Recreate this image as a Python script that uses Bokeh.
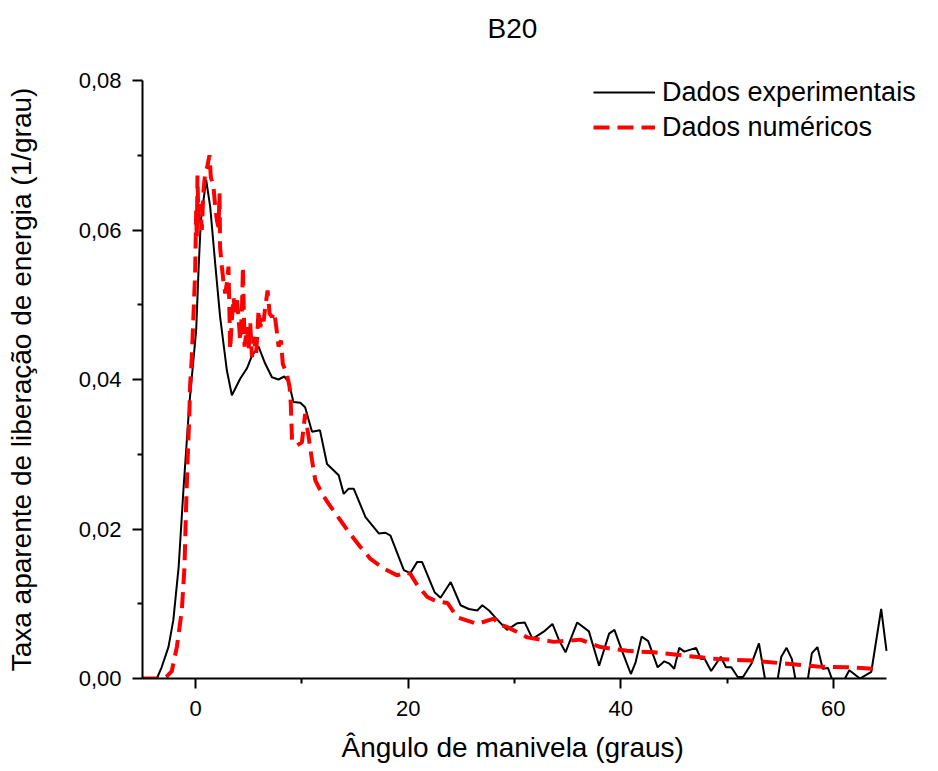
from bokeh.plotting import figure
from bokeh.models import FixedTicker, CustomJSTickFormatter, Range1d, Title
from bokeh.embed import file_html
from bokeh.resources import INLINE

title_text = "B20"
x_label = "Ângulo de manivela (graus)"
y_label = "Taxa aparente de liberação de energia (1/grau)"
series_names = ["Dados experimentais", "Dados numéricos"]

x_ticks = [0, 20, 40, 60]
x_minor = [10, 30, 50]
y_ticks = [0.0, 0.02, 0.04, 0.06, 0.08]
y_minor = [0.01, 0.03, 0.05, 0.07]

exp_x = [-5, -3.65, -3.2, -2.56, -2.1, -1.6, -1.15, -0.6, 0.05, 0.27, 0.49, 0.99,
         1.37, 1.84, 2.3, 2.94, 3.41, 4.19, 4.83, 5.3, 5.92, 6.55, 7.18, 7.8, 8.34,
         8.75, 9.2, 9.85, 10.3, 10.95, 11.7, 12.36, 13.46, 13.93, 14.4, 14.87, 15.98,
         17.23, 17.86, 18.33, 19.59, 20.2, 20.85, 21.3, 22.5, 23.04, 24.0, 24.93, 25.7,
         26.5, 26.97, 27.6, 28.23, 29.3, 30.27, 30.96, 31.7, 32.78, 33.57, 34.2, 34.8,
         35.9, 37.0, 37.96, 38.9, 39.4, 40.17, 40.95, 41.4, 41.96, 42.58, 43.47, 44.1,
         44.56, 45.03, 45.5, 45.97, 47.08, 47.55, 47.9, 48.5, 49.4, 49.9, 50.4, 51.0,
         51.5, 52.3, 53.0, 53.8, 54.6, 55.1, 55.6, 56.1, 56.6, 57.5, 57.98, 58.5, 59.0,
         59.5, 60.1, 60.9, 61.5, 62.5, 63.57, 64.5, 65.0]
exp_y = [0.0, 0.0, 0.0015, 0.0042, 0.0078, 0.0149, 0.0252, 0.0366, 0.0466, 0.0546,
         0.0613, 0.0667, 0.0631, 0.0555, 0.0484, 0.0412, 0.0379, 0.0401, 0.0415,
         0.0432, 0.0444, 0.0421, 0.0403, 0.0400, 0.0404, 0.0397, 0.0370, 0.0369,
         0.0363, 0.0330, 0.0332, 0.0287, 0.0272, 0.0247, 0.0254, 0.0254, 0.0216,
         0.0194, 0.0195, 0.0191, 0.0145, 0.0141, 0.0156, 0.0156, 0.0115, 0.0108,
         0.0129, 0.0098, 0.0093, 0.0091, 0.0098, 0.0091, 0.0081, 0.0065, 0.0074,
         0.0075, 0.0053, 0.0063, 0.0073, 0.0051, 0.0035, 0.0075, 0.0063, 0.0017,
         0.0060, 0.0065, 0.0035, 0.0006, 0.0022, 0.0056, 0.0050, 0.0015, 0.0023,
         0.0020, 0.0013, 0.0041, 0.0036, 0.0041, 0.0026, 0.0026, 0.0010, 0.0029,
         0.0015, 0.0015, 0.0002, 0.0002, 0.0020, 0.0047, -0.0020, -0.0015, 0.0029,
         0.0041, 0.0026, -0.0015, -0.0010, 0.0034, 0.0042, 0.0013, 0.0014, -0.0010,
         -0.0005, 0.0011, 0.0000, 0.0009, 0.0093, 0.0037]

num_x = [-5, -3.0, -2.7, -2.24, -1.77, -1.3, -1.05, -0.9, -0.77, -0.6, -0.52, -0.36,
         -0.2, -0.05, 0.05, 0.11, 0.17, 0.27, 0.42, 0.58, 0.74, 0.9, 1.1, 1.3, 1.43,
         1.68, 1.84, 2.0, 2.15, 2.25, 2.3, 2.47, 2.6, 2.78, 2.95, 3.09, 3.25, 3.41,
         3.56, 3.72, 3.88, 4.03, 4.19, 4.35, 4.45, 4.6, 4.83, 4.98, 5.14, 5.3, 5.45,
         5.7, 5.92, 6.08, 6.24, 6.4, 6.55, 6.77, 6.96, 7.18, 7.4, 7.59, 7.8, 8.03, 8.2,
         8.6, 8.84, 8.95, 9.07, 9.54, 10.0, 10.3, 10.63, 10.95, 11.26, 11.9, 12.5,
         13.6, 14.4, 15.5, 16.45, 17.7, 18.96, 19.75, 20.2, 20.85, 21.8, 22.7, 23.7,
         24.6, 26.5, 27.6, 28.07, 28.6, 29.3, 31.2, 33.7, 36.2, 38.1, 40.6, 43.1, 45.7,
         49.1, 52.3, 55.4, 58.5, 61.4, 63.7]
num_y = [0.0, 0.0, 0.0003, 0.0010, 0.0042, 0.0091, 0.0149, 0.0229, 0.0287, 0.0350,
         0.0392, 0.0430, 0.0488, 0.0542, 0.0626, 0.0586, 0.0673, 0.0609, 0.0635,
         0.0600, 0.0653, 0.0676, 0.0685, 0.0700, 0.0671, 0.0658, 0.0631, 0.0613,
         0.0604, 0.0649, 0.0577, 0.0551, 0.0533, 0.0515, 0.0530, 0.0551, 0.0440,
         0.0480, 0.0510, 0.0490, 0.0506, 0.0484, 0.0452, 0.0490, 0.0551, 0.0444,
         0.0470, 0.0440, 0.0475, 0.0430, 0.0457, 0.0435, 0.0493, 0.0470, 0.0484,
         0.0478, 0.0497, 0.0519, 0.0488, 0.0484, 0.0490, 0.0470, 0.0444, 0.0452,
         0.0421, 0.0406, 0.0390, 0.0368, 0.0319, 0.0312, 0.0316, 0.0354, 0.0323,
         0.0292, 0.0265, 0.0247, 0.0234, 0.0212, 0.0196, 0.0176, 0.0160, 0.0147,
         0.0138, 0.0142, 0.0140, 0.0125, 0.0109, 0.0103, 0.0101, 0.0082, 0.0073,
         0.0078, 0.0080, 0.0072, 0.0069, 0.0055, 0.0049, 0.0052, 0.0042, 0.0037,
         0.0035, 0.0031, 0.0026, 0.0024, 0.0020, 0.0016, 0.0015, 0.0013]

FONT = "Liberation Sans"

# frame: x=-5 at px 142, x=65 at px 886; the frame runs on to the right edge
# so that the legend (which overhangs the axis end) is not clipped
PX_PER_UNIT = 744 / 70.0
X_END = -5 + 796 / PX_PER_UNIT

p = figure(width=938, height=771, output_backend="svg", toolbar_location=None,
           x_range=Range1d(-5, X_END), y_range=Range1d(0, 0.08),
           min_border_left=142, min_border_right=0, min_border_top=80,
           min_border_bottom=93)
p.outline_line_color = None
p.grid.visible = False
p.background_fill_color = "white"
p.border_fill_color = "white"

p.add_layout(Title(text=" ", text_font_size="26px", standoff=0), "above")
p.add_layout(Title(text=title_text, align="left", offset=345, text_font=FONT,
                   text_font_size="28px", text_font_style="normal",
                   text_color="black"), "above")

p.line(exp_x, exp_y, line_color="black", line_width=2, legend_label=series_names[0])
p.line(num_x, num_y, line_color="#ff0000", line_width=4, line_dash="16 8",
       legend_label=series_names[1])

for ax in (p.xaxis[0], p.yaxis[0]):
    ax.axis_line_width = 2
    ax.major_tick_line_width = 2
    ax.minor_tick_line_width = 2
    ax.major_tick_out = 10
    ax.major_tick_in = 0
    ax.minor_tick_out = 5
    ax.minor_tick_in = 0
    ax.major_label_text_font = FONT
    ax.major_label_text_font_size = "22px"
    ax.major_label_text_color = "black"
    ax.axis_label_text_font = FONT
    ax.axis_label_text_font_style = "normal"
    ax.axis_label_text_color = "black"

p.xaxis.bounds = (-5, 65)
p.xaxis.ticker = FixedTicker(ticks=x_ticks, minor_ticks=x_minor)
p.yaxis.ticker = FixedTicker(ticks=y_ticks, minor_ticks=y_minor)
p.yaxis.formatter = CustomJSTickFormatter(code="return tick.toFixed(2).replace('.', ',');")
p.yaxis.axis_label = y_label
p.yaxis.axis_label_text_font_size = "28px"
p.xaxis.major_label_standoff = 12
p.yaxis.major_label_standoff = 11
p.yaxis.axis_label_standoff = 39

# x-axis title, centred under the axis line (not under the wider frame)
p.add_layout(Title(text=" ", text_font_size="8px", standoff=0), "below")
p.add_layout(Title(text=x_label, align="left", offset=199, standoff=0,
                   text_font=FONT, text_font_size="28px",
                   text_font_style="normal", text_color="black"), "below")

lg = p.legend[0]
lg.location = (451, 535)
lg.margin = 0
lg.padding = 0
lg.border_line_alpha = 0
lg.background_fill_alpha = 0
lg.glyph_width = 62
lg.glyph_height = 32
lg.label_height = 32
lg.label_standoff = 7
lg.spacing = 3
lg.label_text_font = FONT
lg.label_text_font_size = "27px"
lg.label_text_color = "black"

open("out.html", "w").write(file_html(p, INLINE))
